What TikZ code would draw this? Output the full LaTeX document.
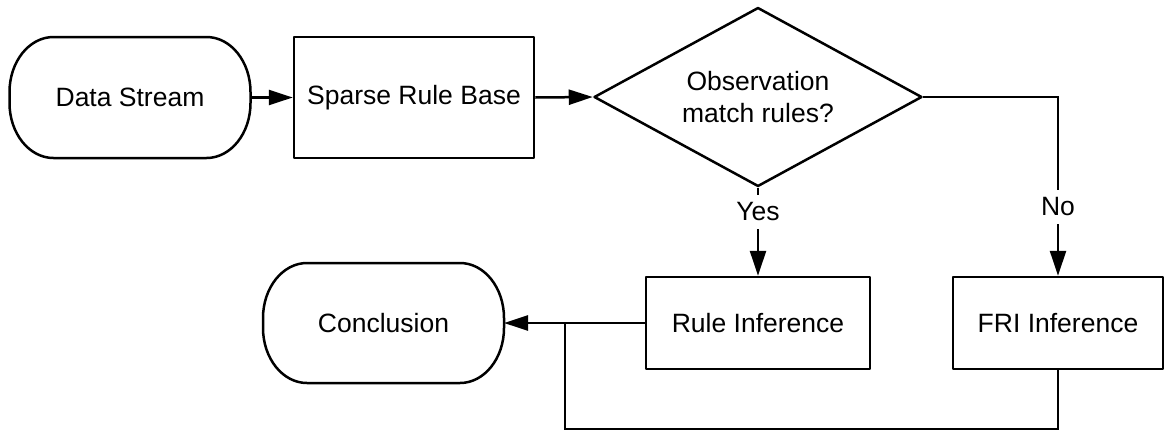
\documentclass[tikz,border=0pt]{standalone}
\usepackage{fontspec}
\setmainfont{Liberation Sans}
\usetikzlibrary{shapes.geometric,arrows.meta}
% start/end boxes: a rectangle whose corners are quarter ellipses
\newcommand\capsuleoutline[1]{%
  \draw[outline] ([xshift=44pt]#1.north west) -- ([xshift=-44pt]#1.north east)
    arc[start angle=90,end angle=0,x radius=44pt,y radius=55pt]
    -- ([yshift=55pt]#1.south east)
    arc[start angle=0,end angle=-90,x radius=44pt,y radius=55pt]
    -- ([xshift=44pt]#1.south west)
    arc[start angle=270,end angle=180,x radius=44pt,y radius=55pt]
    -- ([yshift=-55pt]#1.north west)
    arc[start angle=180,end angle=90,x radius=44pt,y radius=55pt]
    -- cycle;}
\begin{document}
\begin{tikzpicture}[x=1pt,y=-1pt,
  every node/.style={font=\fontsize{26.5}{32}\selectfont},
  outline/.style={draw=black,line width=2.5pt,line join=round},
  base/.style={outline,inner sep=0pt,align=center},
  terminal/.style={rectangle,inner sep=0pt,outer sep=0pt,minimum width=241pt,minimum height=121pt},
  process/.style={base,rectangle,minimum height=92pt},
  decision/.style={base,diamond,aspect=1.83,minimum width=328pt,minimum height=179pt},
  link/.style={line width=2.5pt,draw=black},
  arrowlink/.style={link,-{Triangle[length=24pt,width=15pt]}},
  downlink/.style={link,-{Triangle[length=25pt,width=16pt]}},
  lbl/.style={fill=white,inner sep=0pt,minimum height=34pt,minimum width=40pt}
]
\useasboundingbox (0,0) rectangle (1165,432);

% top row
\node[terminal] (data) at (130,97.5) {Data Stream};
\capsuleoutline{data}
\node[process,minimum width=240pt,minimum height=121pt] (srb) at (414,97.5) {Sparse Rule Base};
\node[decision] (dec) at (758,97) {Observation\\match rules?};

% bottom row
\node[terminal,minimum height=120pt] (concl) at (383.5,323) {Conclusion};
\capsuleoutline{concl}
\node[process,minimum width=224pt] (rule) at (758,323) {Rule Inference};
\node[process,minimum width=210pt] (fri) at (1058,323) {FRI Inference};

\coordinate (join) at (565,323);
\coordinate (floor) at (565,429);

% connectors
\draw[arrowlink] (data.east) -- (srb.west);
\draw[arrowlink] (srb.east) -- (dec.west);
\draw[downlink] (dec.south) -- (rule.north);
\draw[downlink] (dec.east) -| (fri.north);
\draw[arrowlink] (rule.west) -- (concl.east);
\draw[link] (fri.south) |- (floor) -- (join);

% branch labels
\node[lbl] (yes) at (758,212) {Yes};
\node[lbl] (no) at (1058,207) {No};
\end{tikzpicture}
\end{document}
